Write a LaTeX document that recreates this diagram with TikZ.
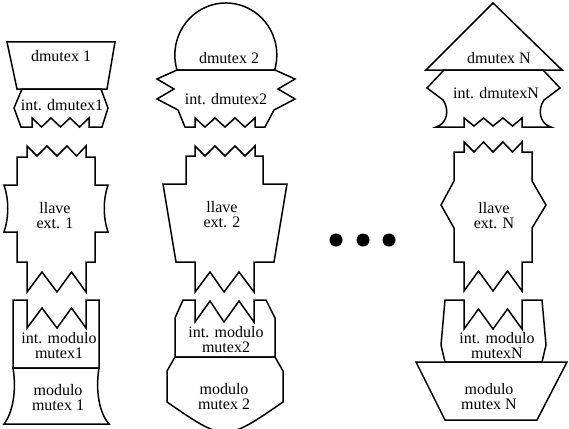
\documentclass[tikz,border=0pt]{standalone}
\usepackage{fontspec}
\setmainfont{Liberation Serif}
\begin{document}
\begin{tikzpicture}[x=1pt,y=-1pt,
  piece/.style={draw=black, line width=1.5pt, line join=miter},
  lbl/.style={font=\fontsize{16}{15}\selectfont, align=center, inner sep=0pt},
  dotmark/.style={circle, fill=black, minimum size=13pt, inner sep=0pt}]
\useasboundingbox (0,0) rectangle (569,428);

% ---------- column 1 ----------
\draw[piece] (7,42) -- (115,42) -- (107,89) -- (17,89) -- cycle;
\draw[piece] (22,89) -- (101,89) -- (108,108) -- (102,127) -- (89,127) -- (89,118) -- (79.5,127) -- (70,118) -- (60.5,127) -- (51,118) -- (41.5,127) -- (32,118) -- (32,127) -- (21,127) -- (14,108) -- cycle;
\draw[piece] (27,146) -- (37,156) -- (47,146) -- (57,156) -- (67,146) -- (76.5,156) -- (86,146) -- (86,157) -- (95,157) -- (95,185) -- (108,185) .. controls (103,200) and (103,217) .. (108,232) -- (95,232) -- (95,262) -- (86,262) -- (86,292) -- (71.5,272) -- (57,292) -- (42,272) -- (27,292) -- (27,262) -- (17,262) -- (17,232) -- (4,232) .. controls (9,217) and (9,200) .. (4,185) -- (17,185) -- (17,157) -- (27,157) -- cycle;
\draw[piece] (13,300) -- (27,300) -- (27,328) -- (42,308) -- (57,328) -- (71.5,308) -- (86,328) -- (86,300) -- (99,300) -- (99,368) -- (13,368) -- cycle;
\draw[piece] (4,424) .. controls (12,414) and (17,392) .. (13,368) -- (99,368) .. controls (95,392) and (100,414) .. (109,424) -- cycle;

\node[lbl] (d1) at (61,56) {dmutex 1};
\node[lbl] (i1) at (62,105) {int. dmutex1};
\node[lbl] (l1) at (55,216) {llave\\ext. 1};
\node[lbl] (im1) at (59,346) {int. modulo\\mutex1};
\node[lbl] (m1) at (58,398) {modulo\\mutex 1};

% ---------- column 2 ----------
\draw[piece] (177,70) arc[start angle=163.2, end angle=376.8, x radius=51, y radius=52] -- cycle;
\draw[piece] (177,70) -- (275,70) -- (295,79) -- (278,89) -- (295,99) -- (274,110) -- (265,127) -- (255,127) -- (255,118) -- (245,127) -- (235,118) -- (225,127) -- (215,118) -- (205,127) -- (195,118) -- (195,127) -- (185,127) -- (178,110) -- (157,99) -- (174,89) -- (157,79) -- cycle;
\draw[piece] (195,146) -- (205,156) -- (215,146) -- (225,156) -- (235,146) -- (245,156) -- (255,146) -- (255,156) -- (263,156) -- (263,184) -- (287,184) -- (274,262) -- (254,262) -- (254,292) -- (239,272) -- (224,292) -- (210,272) -- (195,292) -- (195,262) -- (176,262) -- (163,184) -- (186,184) -- (186,156) -- (195,156) -- cycle;
\draw[piece] (175,357) -- (175,318) -- (183,300) -- (195,300) -- (195,322) -- (210,301) -- (224,322) -- (239,301) -- (254,322) -- (254,300) -- (266,300) -- (275,318) -- (275,357) -- cycle;
\draw[piece] (175,357) -- (275,357) -- (283,371) -- (283,402) .. controls (225,442) .. (167,402) -- (167,371) -- cycle;

\node[lbl] (d2) at (229,58) {dmutex 2};
\node[lbl] (i2) at (226,99) {int. dmutex2};
\node[lbl] (l2) at (222,215) {llave\\ext. 2};
\node[lbl] (im2) at (226,340) {int. modulo\\mutex2};
\node[lbl] (m2) at (224,397) {modulo\\mutex 2};

% ---------- dots ----------
\node[dotmark] (dot1) at (336,240) {};
\node[dotmark] (dot2) at (363,240) {};
\node[dotmark] (dot3) at (389,240) {};

% ---------- column N ----------
\draw[piece] (493,3) -- (562,70) -- (426,70) -- cycle;
\draw[piece] (444,70) -- (543,70) -- (560,88) -- (544,100) .. controls (537,110) and (540,124) .. (551,127) -- (522,127) -- (522,118) -- (512.5,126) -- (503,118) -- (493,126) -- (483.5,118) -- (474,126) -- (464,118) -- (464,127) -- (436,127) .. controls (447,124) and (450,110) .. (443,100) -- (427,88) -- cycle;
\draw[piece] (464,142) -- (474,152) -- (483.5,142) -- (493,152) -- (503,142) -- (512.5,152) -- (522,142) -- (522,152) -- (532,152) -- (532,181) -- (546,205) -- (532,228) -- (532,262) -- (522,262) -- (522,291) -- (507.5,271) -- (493,291) -- (478.5,271) -- (464,291) -- (464,262) -- (454,262) -- (454,228) -- (441,205) -- (454,181) -- (454,152) -- (464,152) -- cycle;
\draw[piece] (445,362) -- (441,345) -- (445,300) -- (464,300) -- (464,329) -- (478.5,309) -- (493,329) -- (507.5,309) -- (522,329) -- (522,300) -- (542,300) -- (546,345) -- (542,362) -- cycle;
\draw[piece] (416,362) -- (567,362) -- (537,420) -- (445,420) -- cycle;

\node[lbl] (dN) at (499,58) {dmutex N};
\node[lbl] (iN) at (496,93) {int. dmutexN};
\node[lbl] (lN) at (494,216) {llave\\ext. N};
\node[lbl] (imN) at (497,346) {int. modulo\\mutexN};
\node[lbl] (mN) at (489,397) {modulo\\mutex N};
\end{tikzpicture}
\end{document}
